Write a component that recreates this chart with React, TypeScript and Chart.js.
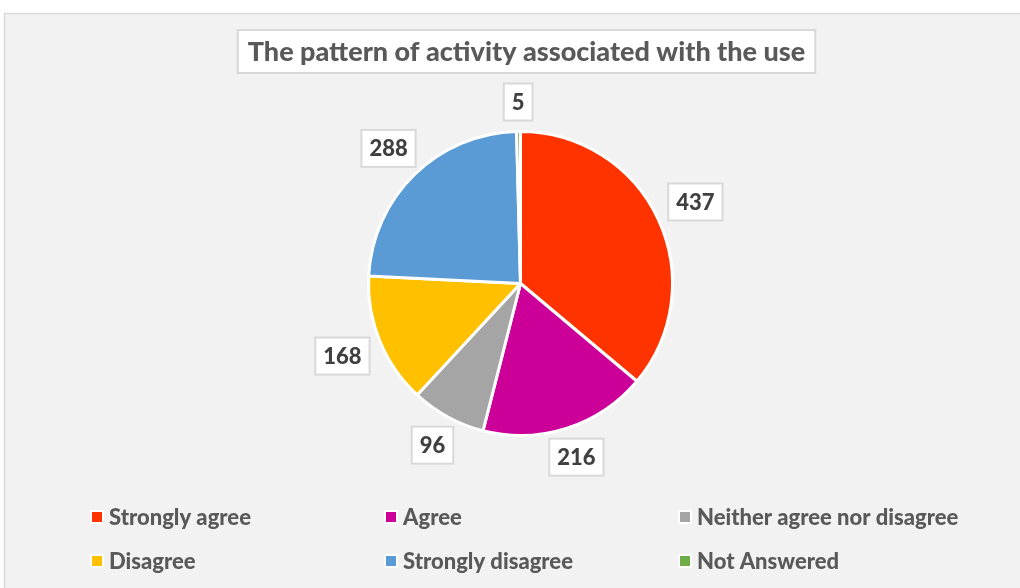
import React, { useEffect, useRef } from "react";
import { Chart, registerables } from "chart.js";

Chart.register(...registerables);

const categories = [
  "Strongly agree",
  "Agree",
  "Neither agree nor disagree",
  "Disagree",
  "Strongly disagree",
  "Not Answered",
];
const values = [437, 216, 96, 168, 288, 5];
const colors = ["#FF3300", "#CC0099", "#A5A5A5", "#FFC000", "#5B9BD5", "#70AD47"];
const titleText = "The pattern of activity associated with the use";

const FONT = "Lato, 'Open Sans', sans-serif";
const W = "900";

const decorPlugin = {
  id: "decor",
  beforeDraw(chart: any) {
    const ctx = chart.ctx;
    ctx.save();
    ctx.fillStyle = "#ffffff";
    ctx.fillRect(0, 0, chart.width, chart.height);
    ctx.fillStyle = "#f2f2f2";
    ctx.fillRect(4, 13, chart.width, chart.height);
    ctx.strokeStyle = "#d9d9d9";
    ctx.lineWidth = 1.5;
    ctx.strokeRect(4.5, 13.5, chart.width + 10, chart.height + 10);
    ctx.restore();
  },
  afterDatasetsDraw(chart: any) {
    const ctx = chart.ctx;
    const meta = chart.getDatasetMeta(0);
    const ds = chart.data.datasets[0];
    ctx.save();
    ctx.font = `${W} 22px ${FONT}`;
    ctx.textAlign = "center";
    ctx.textBaseline = "middle";
    meta.data.forEach((arc: any, i: number) => {
      const txt = String(ds.data[i]);
      const tw = ctx.measureText(txt).width;
      const w = tw + 16;
      const h = 37;
      const mid = (arc.startAngle + arc.endAngle) / 2;
      const sx = Math.cos(mid);
      const sy = Math.sin(mid);
      const hw = w / 2;
      const hh = h / 2;
      const edge = Math.min(
        Math.abs(sx) > 1e-6 ? hw / Math.abs(sx) : 1e9,
        Math.abs(sy) > 1e-6 ? hh / Math.abs(sy) : 1e9
      );
      const dist = arc.outerRadius + 11 + edge;
      const cx = arc.x + sx * dist;
      const cy = arc.y + sy * dist;
      ctx.fillStyle = "#ffffff";
      ctx.fillRect(cx - hw, cy - hh, w, h);
      ctx.strokeStyle = "#d9d9d9";
      ctx.lineWidth = 2;
      ctx.strokeRect(cx - hw, cy - hh, w, h);
      ctx.fillStyle = "#404040";
      ctx.fillText(txt, cx, cy + 1);
    });
    ctx.restore();
  },
  afterDraw(chart: any) {
    const ctx = chart.ctx;
    ctx.save();
    // Title box
    ctx.font = `${W} 27px ${FONT}`;
    const tw = ctx.measureText(titleText).width;
    const tcx = 526.5;
    const tcy = 51.5;
    const bw = tw + 20;
    const bh = 43;
    ctx.fillStyle = "#ffffff";
    ctx.fillRect(tcx - bw / 2, tcy - bh / 2, bw, bh);
    ctx.strokeStyle = "#d9d9d9";
    ctx.lineWidth = 2;
    ctx.strokeRect(tcx - bw / 2, tcy - bh / 2, bw, bh);
    ctx.fillStyle = "#595959";
    ctx.textAlign = "center";
    ctx.textBaseline = "middle";
    ctx.fillText(titleText, tcx, tcy + 1);

    // Legend
    const labels = chart.data.labels as string[];
    const bg = chart.data.datasets[0].backgroundColor as string[];
    const colX = [92, 386, 680];
    const rowY = [517, 561];
    ctx.font = `${W} 22px ${FONT}`;
    ctx.textAlign = "left";
    labels.forEach((lab, i) => {
      const col = i % 3;
      const row = Math.floor(i / 3);
      const x = colX[col];
      const y = rowY[row];
      ctx.fillStyle = "#ffffff";
      ctx.fillRect(x - 2, y - 7, 14, 14);
      ctx.fillStyle = bg[i];
      ctx.fillRect(x, y - 5, 10, 10);
      ctx.fillStyle = "#595959";
      ctx.fillText(lab, x + 17, y + 1);
    });
    ctx.restore();
  },
};

export default function App() {
  const ref = useRef<HTMLCanvasElement>(null);
  useEffect(() => {
    if (!ref.current) return;
    const chart = new Chart(ref.current, {
      type: "pie",
      data: {
        labels: categories,
        datasets: [
          {
            data: values,
            backgroundColor: colors,
            borderColor: "#ffffff",
            borderWidth: 3,
            hoverBorderWidth: 3,
          },
        ],
      },
      options: {
        responsive: false,
        animation: false,
        layout: { padding: { top: 130, bottom: 151, left: 220, right: 199 } },
        plugins: {
          legend: { display: false },
          title: { display: false },
          tooltip: { enabled: false },
        },
      },
      plugins: [decorPlugin],
    });
    return () => chart.destroy();
  }, []);
  return (
    <div style={{ position: "fixed", left: 0, top: 0, width: 1020, height: 588 }}>
      <canvas ref={ref} width={1020} height={588} style={{ display: "block" }} />
    </div>
  );
}
